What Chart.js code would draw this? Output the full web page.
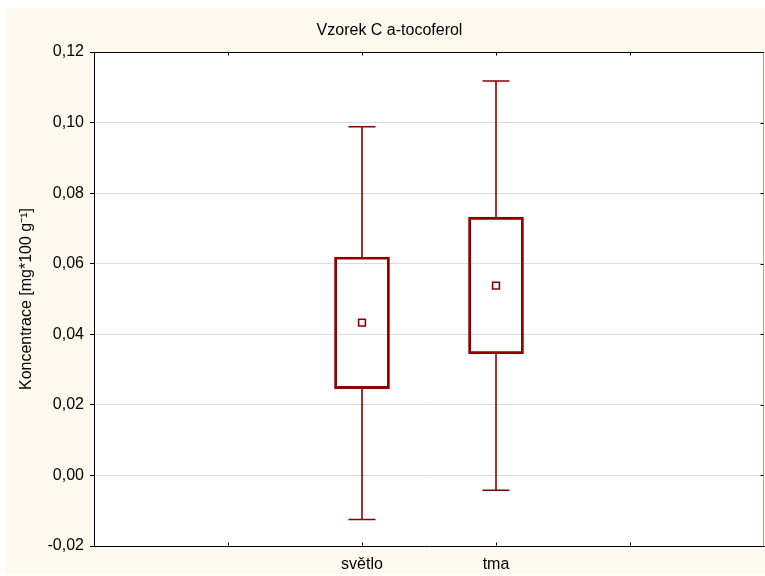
<!DOCTYPE html>
<html>
<head>
<meta charset="utf-8">
<script src="https://cdn.jsdelivr.net/npm/chart.js@4/dist/chart.umd.min.js"></script>
<style>
  html, body { margin: 0; padding: 0; background: #ffffff; }
  canvas { display: block; }
</style>
</head>
<body>
<canvas id="chart" width="765" height="576"></canvas>
<script>
// Box-and-whisker summary per light condition
const categories   = ['světlo', 'tma'];
const xTickLabels  = ['', '', 'světlo', 'tma', '', ''];
const whiskerLow   = [-0.0125, -0.0042];
const boxLow       = [0.0246, 0.0345];
const means        = [0.0433, 0.0538];
const boxHigh      = [0.0619, 0.0732];
const whiskerHigh  = [0.0988, 0.1118];
const yTickValues  = [-0.02, 0.00, 0.02, 0.04, 0.06, 0.08, 0.10, 0.12];

const FONT = 'Arial, "Liberation Sans", sans-serif';
const RED = '#8b0000';
const CREAM = '#fef9ee';

const fmt = v => v.toFixed(2).replace('.', ',');

const framePlugin = {
  id: 'frame',
  beforeDraw(chart) {
    const { ctx, chartArea: a, width, height } = chart;
    ctx.save();
    ctx.fillStyle = '#ffffff';
    ctx.fillRect(0, 0, width, height);
    ctx.fillStyle = CREAM;
    ctx.fillRect(6, 8, width - 6, height - 10);
    ctx.fillStyle = '#ffffff';
    ctx.fillRect(a.left, a.top, a.right - a.left, a.bottom - a.top);
    ctx.restore();
  },
  afterDatasetsDraw(chart) {
    // whiskers with end caps
    const { ctx, scales: { x, y } } = chart;
    const cap = 13.5;
    ctx.save();
    ctx.strokeStyle = RED;
    ctx.lineWidth = 1.6;
    categories.forEach((c, i) => {
      const px = x.getPixelForValue(xTickLabels.indexOf(c));
      const yHi = y.getPixelForValue(whiskerHigh[i]);
      const yLo = y.getPixelForValue(whiskerLow[i]);
      const yQ3 = y.getPixelForValue(boxHigh[i]);
      const yQ1 = y.getPixelForValue(boxLow[i]);
      ctx.beginPath();
      ctx.moveTo(px, yQ3); ctx.lineTo(px, yHi);
      ctx.moveTo(px - cap, yHi); ctx.lineTo(px + cap, yHi);
      ctx.moveTo(px, yQ1); ctx.lineTo(px, yLo);
      ctx.moveTo(px - cap, yLo); ctx.lineTo(px + cap, yLo);
      ctx.stroke();
    });
    ctx.restore();
  },
  afterDraw(chart) {
    const { ctx, chartArea: a, scales: { x, y } } = chart;
    const top = Math.round(a.top) + 0.5;
    const right = Math.round(a.right) - 0.5;
    const bottom = Math.round(a.bottom) - 0.5;
    ctx.save();
    ctx.lineWidth = 1;
    // top border
    ctx.strokeStyle = '#000000';
    ctx.beginPath();
    ctx.moveTo(a.left, top); ctx.lineTo(right + 0.5, top);
    ctx.stroke();
    // right border
    ctx.strokeStyle = '#a8a8a8';
    ctx.beginPath();
    ctx.moveTo(right, top + 0.5); ctx.lineTo(right, a.bottom);
    ctx.stroke();
    // inward tick marks on bottom, top and right borders
    ctx.strokeStyle = '#000000';
    ctx.beginPath();
    for (let i = 1; i < x.ticks.length - 1; i++) {
      const px = Math.round(x.getPixelForTick(i)) + 0.5;
      ctx.moveTo(px, bottom); ctx.lineTo(px, bottom - 3);
      ctx.moveTo(px, top); ctx.lineTo(px, top + 3);
    }
    for (let i = 1; i < y.ticks.length - 1; i++) {
      const py = Math.round(y.getPixelForValue(y.ticks[i].value)) + 0.5;
      ctx.moveTo(right, py); ctx.lineTo(right - 3, py);
    }
    ctx.stroke();
    ctx.restore();
  }
};

new Chart(document.getElementById('chart'), {
  type: 'bar',
  data: {
    labels: xTickLabels,
    datasets: [
      {
        type: 'bar',
        data: categories.map((c, i) => ({ x: c, y: [boxLow[i], boxHigh[i]] })),
        backgroundColor: 'rgba(0,0,0,0)',
        borderColor: RED,
        borderWidth: 2.2,
        borderSkipped: false,
        barThickness: 55,
        order: 2
      },
      {
        type: 'line',
        data: categories.map((c, i) => ({ x: c, y: means[i] })),
        showLine: false,
        pointStyle: 'rect',
        pointRadius: 4.8,
        pointBorderWidth: 1.6,
        pointBackgroundColor: '#ffffff',
        pointBorderColor: RED,
        order: 1
      }
    ]
  },
  options: {
    responsive: false,
    animation: false,
    layout: { autoPadding: false, padding: { left: 15, top: 0, right: 1, bottom: 0 } },
    plugins: {
      legend: { display: false },
      tooltip: { enabled: false },
      title: {
        display: true,
        text: 'Vzorek C a-tocoferol',
        color: '#000000',
        font: { family: FONT, size: 16, weight: 'normal' },
        padding: { top: 21.4, bottom: 11.4 }
      }
    },
    scales: {
      x: {
        type: 'category',
        offset: false,
        grid: { display: true, drawOnChartArea: false, drawTicks: false },
        border: { display: true, color: '#000000', width: 1 },
        ticks: {
          color: '#000000',
          font: { family: FONT, size: 16 },
          padding: 9,
          autoSkip: false,
          maxRotation: 0
        },
        afterFit(scale) {
          scale.height = 30;
          scale.paddingLeft = 0;
          scale.paddingRight = 0;
        }
      },
      y: {
        min: -0.02,
        max: 0.12,
        afterBuildTicks(scale) { scale.ticks = yTickValues.map(v => ({ value: v })); },
        grid: { color: '#dcdcdc', lineWidth: 1, tickLength: 4, tickColor: '#000000' },
        border: { display: true, color: '#000000', width: 1 },
        ticks: {
          color: '#000000',
          font: { family: FONT, size: 16 },
          padding: 6,
          callback: v => fmt(v)
        },
        title: {
          display: true,
          text: 'Koncentrace [mg*100 g\u207B\u00B9]',
          color: '#000000',
          font: { family: FONT, size: 16 },
          padding: { top: 2.4, bottom: 0 }
        },
        afterFit(scale) { scale.width = 79; }
      }
    }
  },
  plugins: [framePlugin]
});
</script>
</body>
</html>
